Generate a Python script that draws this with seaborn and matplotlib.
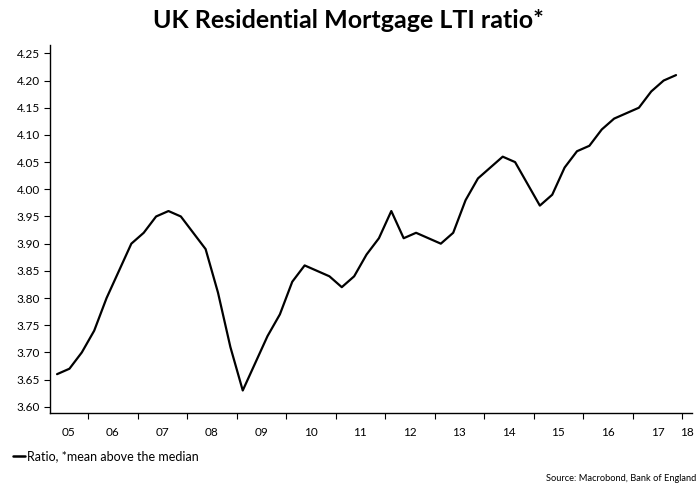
import numpy as np
import pandas as pd
import matplotlib
matplotlib.use("Agg")
import matplotlib.pyplot as plt
import seaborn as sns

# Quarterly loan-to-income ratio, 2005 Q2 .. 2017 Q4
start_year = 2005
start_quarter = 2
lti_ratio = [
    3.66, 3.67, 3.70,
    3.74, 3.80, 3.85, 3.90,
    3.92, 3.95, 3.96, 3.95,
    3.92, 3.89, 3.81, 3.71,
    3.63, 3.68, 3.73, 3.77,
    3.83, 3.86, 3.85, 3.84,
    3.82, 3.84, 3.88, 3.91,
    3.96, 3.91, 3.92, 3.91,
    3.90, 3.92, 3.98, 4.02,
    4.04, 4.06, 4.05, 4.01,
    3.97, 3.99, 4.04, 4.07,
    4.08, 4.11, 4.13, 4.14,
    4.15, 4.18, 4.20, 4.21,
]
year_labels = ["05", "06", "07", "08", "09", "10", "11", "12",
               "13", "14", "15", "16", "17", "18"]
y_ticks = [3.60, 3.65, 3.70, 3.75, 3.80, 3.85, 3.90, 3.95,
           4.00, 4.05, 4.10, 4.15, 4.20, 4.25]

title = "UK Residential Mortgage LTI ratio*"
legend_label = "Ratio, *mean above the median"
source_text = "Source: Macrobond, Bank of England"

# place each quarter at its mid-point on a decimal-year axis
q_index = np.arange(len(lti_ratio)) + (start_quarter - 1)
t = start_year + q_index * 0.25 + 0.125
df = pd.DataFrame({"t": t, "ratio": lti_ratio})

sns.set_theme(style="white")
plt.rcParams["font.family"] = ["Lato", "DejaVu Sans"]

fig = plt.figure(figsize=(6.97, 4.86), dpi=100)
ax = fig.add_axes([0.0717, 0.150, 0.9213, 0.757])

sns.lineplot(data=df, x="t", y="ratio", ax=ax, color="black",
             linewidth=1.6, legend=False)

x_lo, x_hi = 2005.232, 2018.20
ax.set_xlim(x_lo, x_hi)
ax.set_ylim(3.5884, 4.265)

ax.set_yticks(y_ticks)
ax.set_yticklabels([f"{v:.2f}" for v in y_ticks])

# year boundaries as ticks, labels centred in the visible span of each year
first_year = 2005
years = np.arange(first_year, first_year + len(year_labels))
ax.set_xticks(years[1:])
ax.set_xticklabels([])
centres = []
for y in years:
    a, b = max(y, x_lo), min(y + 1, x_hi)
    centres.append((a + b) / 2)
ax.set_xticks(centres, minor=True)
ax.set_xticklabels(year_labels, minor=True)

ax.set_xlabel("")
ax.set_ylabel("")
for side in ("top", "right"):
    ax.spines[side].set_visible(False)
for side in ("left", "bottom"):
    ax.spines[side].set_color("black")
    ax.spines[side].set_linewidth(1.0)

ax.tick_params(axis="y", which="major", direction="out", length=4,
               width=0.8, color="black", labelsize=8.5, pad=3,
               left=True, labelcolor="black")
ax.tick_params(axis="x", which="major", direction="out", length=4,
               width=0.8, color="black", bottom=True)
ax.tick_params(axis="x", which="minor", length=0, labelsize=8.5,
               pad=10, labelcolor="black", bottom=True)

fig.text(0.5, 0.958, title, ha="center", va="center",
         fontsize=18, fontweight="bold", color="black")

# legend key and caption
fig.lines.append(plt.Line2D([13 / 697, 25 / 697], [1 - 456 / 486] * 2,
                            transform=fig.transFigure, color="black",
                            linewidth=1.8))
fig.text(27 / 697, 1 - 456 / 486, legend_label, ha="left", va="center",
         fontsize=9, color="black")
fig.text(0.999, 1 - 478 / 486, source_text, ha="right", va="center",
         fontsize=6.7, color="black")

fig.savefig("out.png", dpi=100)
